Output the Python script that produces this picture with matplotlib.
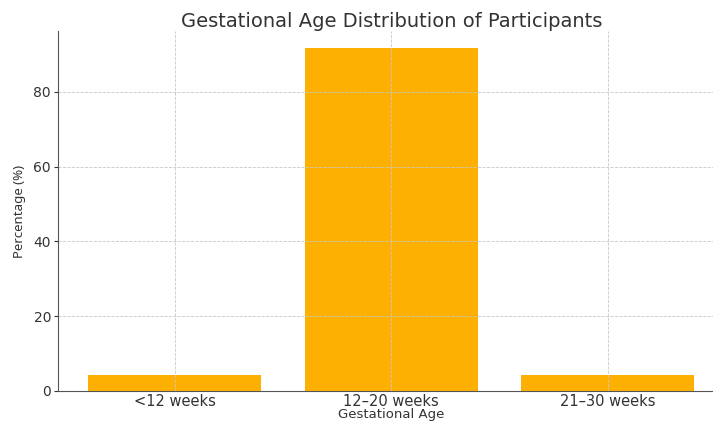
import matplotlib.pyplot as plt

# Gestational age groups and share of participants (%)
categories = ["<12 weeks", "12\u201320 weeks", "21\u201330 weeks"]
percentages = [4.17, 91.67, 4.17]
yticks = [0, 20, 40, 60, 80]

plt.rcParams["font.family"] = "DejaVu Sans"
text_col = "#333333"

fig = plt.figure(figsize=(7.13, 4.22), dpi=100)
ax = fig.add_axes([0.0813, 0.0735, 0.935, 0.853])

ax.bar(categories, percentages, width=0.8, color="#FDB002")
ax.grid(True, linestyle="--", linewidth=0.6, color="#c8c8c8")

ax.set_yticks(yticks)
ax.set_title("Gestational Age Distribution of Participants", fontsize=14,
             color=text_col, pad=3)
ax.set_xlabel("Gestational Age", fontsize=9.5, color=text_col, labelpad=-0.5)
ax.set_ylabel("Percentage (%)", fontsize=9.5, color=text_col,
              family="Noto Sans", labelpad=5)
ax.tick_params(axis="x", labelsize=10.5, colors=text_col, length=0, pad=2)
ax.tick_params(axis="y", labelsize=10, colors=text_col, length=3, pad=2)

for side in ["top", "right"]:
    ax.spines[side].set_visible(False)
for side in ["left", "bottom"]:
    ax.spines[side].set_color("#555555")

fig.savefig("out.png", dpi=100)
